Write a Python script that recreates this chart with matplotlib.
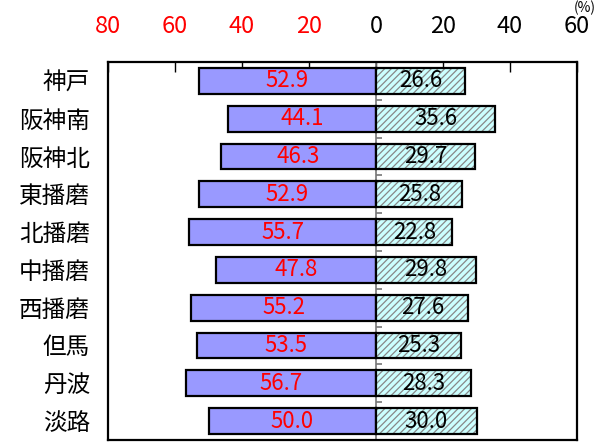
import matplotlib
matplotlib.use("Agg")
import matplotlib.pyplot as plt
import numpy as np

plt.rcParams['font.family'] = ['Noto Sans CJK JP', 'DejaVu Sans']

categories = ['神戸', '阪神南', '阪神北', '東播磨', '北播磨', '中播磨', '西播磨', '但馬', '丹波', '淡路']
left_values = [52.9, 44.1, 46.3, 52.9, 55.7, 47.8, 55.2, 53.5, 56.7, 50.0]
right_values = [26.6, 35.6, 29.7, 25.8, 22.8, 29.8, 27.6, 25.3, 28.3, 30.0]
tick_values = [-80, -60, -40, -20, 0, 20, 40, 60]
tick_labels = ['80', '60', '40', '20', '0', '20', '40', '60']

fig = plt.figure(figsize=(5.99, 4.44), dpi=100)
ax = fig.add_axes([108/599, 1-440/444, (577-108)/599, (440-62)/444])

y = np.arange(len(categories))
h = 0.68
lv = -np.array(left_values)
rv = np.array(right_values)

ax.barh(y, lv, height=h, color='#9999FF', edgecolor='black', linewidth=1.6, zorder=3)
plt.rcParams['hatch.linewidth'] = 0.9
ax.barh(y, rv, height=h, color='#CCFFFF', edgecolor='#888888', hatch='/////', linewidth=0, zorder=3)
ax.barh(y, rv, height=h, fill=False, edgecolor='black', linewidth=1.6, zorder=4)

for yi, v in zip(y, left_values):
    ax.text(-v/2, yi, f'{v:.1f}', ha='center', va='center', color='red', fontsize=16, zorder=5)
for yi, v in zip(y, right_values):
    ax.text(v/2, yi, f'{v:.1f}', ha='center', va='center', color='black', fontsize=16, zorder=5)

# center line with small ticks
ax.axvline(0, color='#777777', linewidth=1.2, zorder=2)
ax.hlines(y[:-1] + 0.5, 0, 1.8, color='#777777', linewidth=1.2, zorder=2)

ax.set_xlim(-80, 60)
ax.set_ylim(len(categories) - 0.5, -0.5)
ax.set_yticks(y)
ax.set_yticklabels(categories, fontsize=17)
ax.tick_params(axis='y', length=0, pad=13)

ax.xaxis.tick_top()
ax.set_xticks(tick_values)
ax.set_xticklabels(tick_labels, fontsize=17)
ax.tick_params(axis='x', direction='in', length=7, width=1, pad=17, top=True, bottom=False)
for lbl, v in zip(ax.get_xticklabels(), tick_values):
    lbl.set_color('red' if v < 0 else 'black')

for s in ax.spines.values():
    s.set_linewidth(1.6)

fig.text(585/599, 0.999, '(%)', ha='center', va='top', fontsize=10)

fig.savefig('out.png', dpi=100)
